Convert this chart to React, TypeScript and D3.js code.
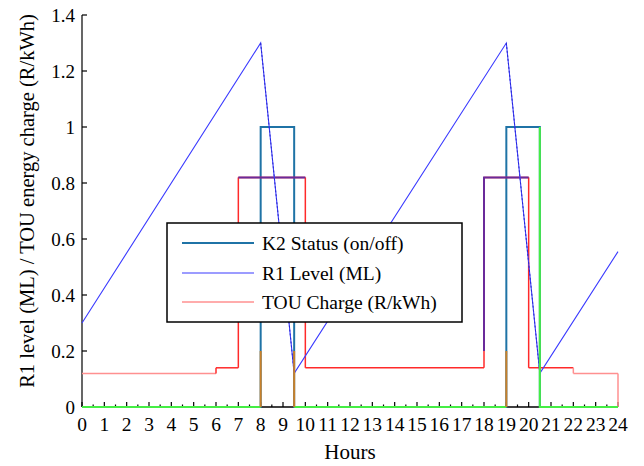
import React from "react";
import * as d3 from "d3";

// ---- Data ----
const r1Hours = [0, 8, 9.5, 19, 20.5, 24];
const r1Level = [0.3, 1.3, 0.12, 1.3, 0.12, 0.555];

const k2Hours = [0, 8, 9.5, 19, 20.5, 24];
const k2Status = [0, 1, 0, 1, 0, 0];

const touHours = [0, 6, 7, 10, 18, 20, 22, 24, 24];
const touCharge = [0.12, 0.14, 0.82, 0.14, 0.82, 0.14, 0.12, 0.12, 0];

// Unlabelled helper traces visible in the figure (NaN = break)
const greenHours = [0, 8, NaN, 9.5, 19, NaN, 20.5, 20.5, 24];
const greenValues = [0, 0, NaN, 0, 0, NaN, 1, 0, 0];
const orangeHours = [8, 8, NaN, 9.5, 9.5, NaN, 19, 19];
const orangeValues = [0, 0.2, NaN, 0, 0.2, NaN, 0, 0.2];
const purpleHours = [7, 10, NaN, 18, 18, 20];
const purpleValues = [0.82, 0.82, NaN, 0.2, 0.82, 0.82];

const xTicks = d3.range(0, 25, 1);
const xMinorTicks = d3.range(0.5, 24, 1);
const yTicks = [0, 0.2, 0.4, 0.6, 0.8, 1, 1.2, 1.4];

const legendLabels = ["K2 Status (on/off)", "R1 Level (ML)", "TOU Charge (R/kWh)"];

const W = 644;
const H = 466;
const FONT = "'Liberation Serif', 'Times New Roman', serif";

export default function App() {
  const x = d3.scaleLinear().domain([0, 24]).range([82, 618]);
  const y = d3.scaleLinear().domain([0, 1.4]).range([407, 15]);

  const zip = (hs: number[], vs: number[]) => hs.map((h, i) => [h, vs[i]] as [number, number]);

  const plain = d3
    .line<[number, number]>()
    .defined((d) => !isNaN(d[0]) && !isNaN(d[1]))
    .x((d) => x(d[0]))
    .y((d) => y(d[1]));
  const step = d3
    .line<[number, number]>()
    .x((d) => x(d[0]))
    .y((d) => y(d[1]))
    .curve(d3.curveStepAfter);

  const r1 = zip(r1Hours, r1Level);
  const k2 = zip(k2Hours, k2Status);
  const tou = zip(touHours, touCharge);

  // TOU segments coloured: lowest tariff appears lighter
  const lowest = d3.min(touCharge.filter((v) => v > 0)) as number;
  const touSegs: { d: string; light: boolean }[] = [];
  for (let i = 0; i < tou.length - 1; i++) {
    const [h0, v0] = tou[i];
    const [h1, v1] = tou[i + 1];
    if (h1 > h0) {
      touSegs.push({ d: plain([[h0, v0], [h1, v0]]) as string, light: v0 <= lowest });
    }
    if (v1 !== v0) {
      touSegs.push({
        d: plain([[h1, v0], [h1, v1]]) as string,
        light: Math.min(v0, v1) <= lowest && Math.max(v0, v1) <= 0.14 + 1e-9 && !(v0 === 0.12 && v1 === 0.14),
      });
    }
  }

  const falling: string[] = [];
  for (let i = 0; i < r1.length - 1; i++) {
    if (r1[i + 1][1] < r1[i][1]) falling.push(plain([r1[i], r1[i + 1]]) as string);
  }

  const teal = "#1f73a6";
  const blue = "#3a3aff";
  const red = "#ff2a2a";
  const pink = "#ff9090";
  const green = "#44ee44";
  const orange = "#c8802a";
  const purple = "#6a2a9a";

  const lx0 = 167, ly0 = 223, lw = 295, lh = 99;
  const rows = [243, 273, 302];

  return (
    <svg width={W} height={H} style={{ position: "absolute", left: 0, top: 0, background: "#fff" }} fontFamily={FONT}>
      <rect x={0} y={0} width={W} height={H} fill="#fff" />
      {/* axes */}
      <line x1={x(0)} x2={x(0)} y1={y(1.4)} y2={y(0)} stroke="#000" strokeWidth={1.2} />
      <line x1={x(0)} x2={x(24)} y1={y(0)} y2={y(0)} stroke="#000" strokeWidth={1.5} />
      {yTicks.map((t) => (
        <g key={"y" + t}>
          <line x1={x(0)} x2={x(0) + 5} y1={y(t)} y2={y(t)} stroke="#000" strokeWidth={1.2} />
          <text x={75} y={y(t)} dy="0.35em" textAnchor="end" fontSize={19}>
            {String(+t.toFixed(1))}
          </text>
        </g>
      ))}
      {xTicks.map((t) => (
        <g key={"x" + t}>
          <line x1={x(t)} x2={x(t)} y1={y(0)} y2={y(0) - 5} stroke="#000" strokeWidth={1.2} />
          <text x={x(t)} y={431} textAnchor="middle" fontSize={19.5}>
            {t}
          </text>
        </g>
      ))}
      {xMinorTicks.map((t) => (
        <line key={"m" + t} x1={x(t)} x2={x(t)} y1={y(0)} y2={y(0) - 2.5} stroke="#000" strokeWidth={1.2} />
      ))}

      {/* series */}
      <path d={step(k2) as string} fill="none" stroke={teal} strokeWidth={2} />
      {touSegs.map((s, i) => (
        <path key={"t" + i} d={s.d} fill="none" stroke={s.light ? pink : red} strokeWidth={1.5} />
      ))}
      <path d={plain(zip(purpleHours, purpleValues)) as string} fill="none" stroke={purple} strokeWidth={2} />
      <path d={plain(r1) as string} fill="none" stroke={blue} strokeWidth={1.1} />
      {falling.map((d, i) => (
        <path key={"f" + i} d={d} fill="none" stroke="#2a2ad0" strokeWidth={1} strokeDasharray="2,2" />
      ))}
      <path d={plain(zip(greenHours, greenValues)) as string} fill="none" stroke={green} strokeWidth={2} />
      <path d={plain(zip(orangeHours, orangeValues)) as string} fill="none" stroke={orange} strokeWidth={2} />

      {/* legend */}
      <rect x={lx0} y={ly0} width={lw} height={lh} fill="#fff" stroke="#000" strokeWidth={1.5} />
      {legendLabels.map((lab, i) => (
        <g key={lab}>
          <line
            x1={182}
            x2={254}
            y1={rows[i]}
            y2={rows[i]}
            stroke={[teal, blue, pink][i]}
            strokeWidth={[2, 1.1, 1.5][i]}
          />
          <text x={262} y={rows[i]} dy="0.35em" fontSize={19.5}>
            {lab}
          </text>
        </g>
      ))}

      {/* titles */}
      <text x={350} y={459} textAnchor="middle" fontSize={21}>
        Hours
      </text>
      <text transform={`translate(34, ${(y(0) + y(1.4)) / 2 - 10}) rotate(-90)`} textAnchor="middle" fontSize={20.5}>
        R1 level (ML) / TOU energy charge (R/kWh)
      </text>
    </svg>
  );
}
